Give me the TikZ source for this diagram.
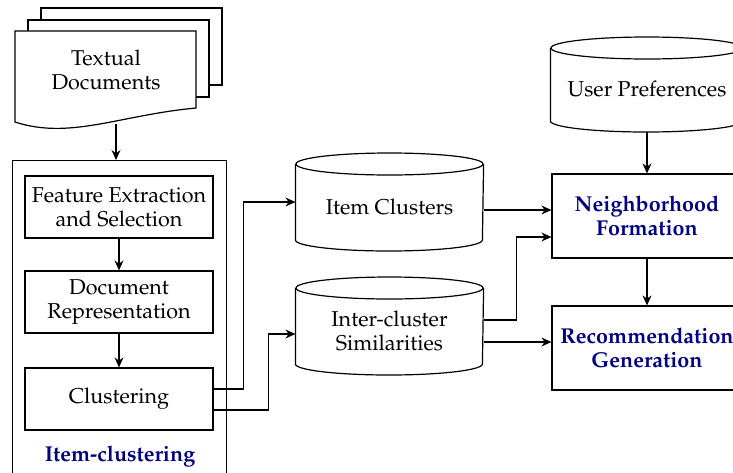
\documentclass[tikz,border=0pt]{standalone}
\usepackage[T1]{fontenc}
\usepackage{mathpazo}
\usetikzlibrary{arrows.meta,calc}
\definecolor{navyblue}{RGB}{0,0,128}

\newcommand{\picfont}{\fontsize{10.75pt}{11.8pt}\selectfont}

\tikzset{
  proc/.style={draw, minimum width=94pt, minimum height=31pt, align=center, inner sep=1pt},
  stage/.style={draw, minimum width=95pt, minimum height=42pt, align=center, inner sep=1pt,
    font=\picfont\bfseries, text=navyblue},
  store/.style={minimum width=#1, align=center, inner sep=1pt},
  arr/.style={-{Stealth[length=5pt,width=4.5pt]}},
}

% cylinder outline round a named node: node, x radius, top and bottom offsets
\newcommand{\drawstore}[4]{%
  \draw ([yshift=#3]#1.west) -- ([yshift=-#4]#1.west)
    arc[start angle=180, end angle=360, x radius=#2, y radius=5.5pt] -- ([yshift=#3]#1.east);
  \draw ([yshift=#3]#1.center) ellipse[x radius=#2, y radius=5.5pt];
}

\begin{document}
\begin{tikzpicture}[x=0.5pt, y=-0.5pt, line width=0.6pt, font=\picfont]

    \useasboundingbox (0,0) rectangle (733,472);

    % stack of documents
    \filldraw[fill=white] (41,8) rectangle (222,85);
    \filldraw[fill=white] (28,20) rectangle (209,97);
    \filldraw[fill=white] (15,31) -- (196,31) -- (196,108) .. controls (120,115) and (70,140) .. (15,122) -- cycle;
    \node (docs) [align=center] at (106,70) {Textual\\Documents};
    \coordinate (docbot) at (116,124);

    % item-clustering block
    \node (icbox) [draw, anchor=north west, minimum width=107pt, minimum height=160pt] at (12,160) {};
    \node (iclabel) [font=\picfont\bfseries, text=navyblue] at (120,456) {Item-clustering};
    \node (fe) [proc] at (119,207) {Feature Extraction\\and Selection};
    \node (dr) [proc] at (119,302) {Document\\Representation};
    \node (clu) [proc] at (119,399) {Clustering};

    \draw[arr] (docbot) -- (docbot |- icbox.north);
    \draw[arr] (fe) -- (dr);
    \draw[arr] (dr) -- (clu);

    % stores
    \node (ic) [store=93.5pt] at (389.5,207) {Item Clusters};
    \node (inter) [store=93.5pt] at (389.5,331) {Inter-cluster\\Similarities};
    \node (up) [store=96pt] at (647,89) {User Preferences};
    \drawstore{ic}{46.75pt}{21.5pt}{16.5pt}
    \drawstore{inter}{46.75pt}{21.5pt}{16.5pt}
    \drawstore{up}{48pt}{20.5pt}{16pt}

    % recommendation stages
    \node (nf) [stage] at (647,216) {Neighborhood\\Formation};
    \node (rg) [stage] at (647,348) {Recommendation\\Generation};

    \path ([yshift=3pt]nf.west) coordinate (nfin1)
          ([yshift=-10.5pt]nf.west) coordinate (nfin2)
          ([yshift=3pt]rg.west) coordinate (rgin);

    \draw[arr] ([yshift=5pt]clu.east) -- ++(30,0) |- ([yshift=2.5pt]ic.west);
    \draw[arr] ([yshift=-5.5pt]clu.east) -- ++(55,0) |- ([yshift=-1.5pt]inter.west);
    \draw[arr] (nfin1 -| ic.east) -- (nfin1);
    \draw[arr] ([yshift=5.5pt]inter.east) -- ++(33,0) |- (nfin2);
    \draw[arr] (rgin -| inter.east) -- (rgin);
    \draw[arr] ([yshift=-21.5pt]up.center) -- (nf);
    \draw[arr] (nf) -- (rg);

\end{tikzpicture}
\end{document}
